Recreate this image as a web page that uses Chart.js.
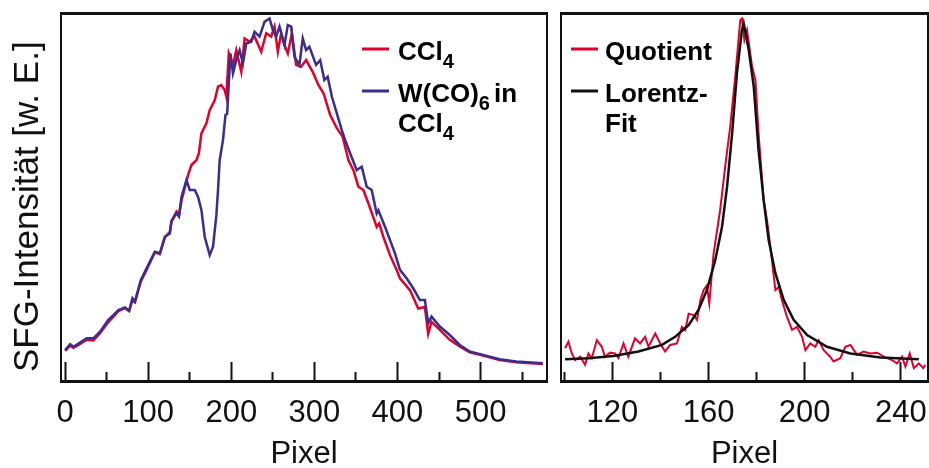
<!DOCTYPE html>
<html>
<head>
<meta charset="utf-8">
<script src="https://cdn.jsdelivr.net/npm/chart.js@4"></script>
<style>
  body { margin: 0; background: #fff; }
  #wrap { position: relative; width: 929px; height: 468px; }
  canvas { position: absolute; top: 0; }
  #left { left: 0; }
  #right { left: 555px; }
</style>
</head>
<body>
<div id="wrap">
  <canvas id="left" width="555" height="468"></canvas>
  <canvas id="right" width="374" height="468"></canvas>
</div>
<script>
// --- DATA (intensity in arbitrary units 0..100) ---
const ccl4Px = [0, 6, 10, 16, 26, 34, 42, 52, 58, 64, 72, 77, 81, 84, 91, 98, 108, 114, 120, 126, 128, 134, 137, 140,
  148, 152, 158, 161, 164, 170, 174, 180, 184, 188, 192, 194, 197, 202, 206, 212, 216, 222, 228, 236, 242, 248, 252,
  256, 260, 264, 268, 273, 278, 284, 290, 298, 305, 311, 319, 327, 334, 341, 347, 353, 359, 365, 375, 378, 383, 391,
  399, 403, 415, 425, 433, 437, 441, 451, 463, 475, 487, 503, 523, 543, 575];
const ccl4Int = [8.2, 9.6, 9.0, 9.8, 11.2, 11.0, 13.0, 16.0, 17.5, 19.0, 19.8, 19.0, 22.0, 21.4, 27.0, 30.2, 35.0, 34.5,
  39.0, 40.5, 43.5, 46.0, 45.0, 49.0, 56.0, 58.7, 60.0, 61.9, 67.3, 70.0, 73.6, 76.3, 80.0, 80.4, 79.1, 77.3, 89.0,
  85.9, 89.9, 84.0, 93.1, 92.2, 93.6, 89.5, 94.5, 93.6, 96.3, 89.5, 94.5, 91.3, 89.0, 94.5, 85.9, 85.4, 87.2, 84.0,
  80.4, 78.2, 72.3, 68.7, 66.4, 60.0, 57.3, 52.8, 51.9, 48.3, 41.9, 42.8, 39.2, 34.2, 30.2, 27.9, 24.7, 19.7, 20.1,
  12.8, 16.1, 13.9, 11.2, 9.4, 7.8, 6.9, 5.7, 5.1, 4.6];

const wcoPx = [0, 6, 10, 16, 26, 34, 42, 52, 58, 64, 72, 77, 81, 84, 91, 98, 108, 114, 120, 126, 128, 134, 137, 140,
  146, 150, 156, 160, 164, 168, 174, 178, 182, 184, 186, 190, 193, 195, 197, 199, 202, 206, 210, 214, 218, 224, 228,
  234, 240, 246, 250, 254, 258, 264, 268, 272, 276, 282, 286, 290, 294, 302, 307, 312, 316, 321, 327, 333, 337, 343,
  351, 357, 363, 369, 375, 377, 385, 391, 397, 403, 411, 419, 427, 433, 437, 441, 451, 463, 475, 487, 503, 523, 543, 575];
const wcoInt = [8.4, 10.0, 9.3, 10.2, 11.6, 11.6, 13.4, 16.6, 17.9, 19.3, 20.0, 19.1, 22.5, 21.6, 27.4, 30.6, 35.1,
  34.7, 39.2, 40.1, 43.3, 45.6, 44.7, 50.0, 54.6, 51.9, 51.9, 50.0, 46.5, 39.2, 34.2, 36.5, 45.0, 51.9, 60.0, 65.5,
  72.3, 72.6, 80.9, 89.0, 83.6, 87.2, 89.9, 86.3, 91.7, 92.2, 94.9, 93.6, 97.6, 98.5, 95.4, 93.6, 96.3, 91.3, 96.7,
  96.3, 88.1, 85.9, 93.1, 89.9, 90.8, 85.9, 87.2, 81.8, 82.7, 77.3, 72.7, 68.2, 65.5, 61.9, 57.3, 58.2, 52.8, 51.9,
  45.5, 46.4, 41.9, 38.3, 34.7, 30.2, 27.9, 25.2, 22.0, 22.0, 15.7, 17.5, 14.8, 12.5, 9.8, 8.0, 7.1, 5.9, 5.3, 4.8];

const quotPx = [100.3, 101.7, 103.1, 104.5, 106.6, 108.6, 110, 111.4, 113.5, 115.6, 116.9, 119, 121.1, 122.5, 124.6,
  126.6, 129.4, 131.5, 133.6, 135, 137.8, 139.9, 141.9, 144, 146.8, 148.9, 150.3, 151.7, 153.8, 155.2, 156.6, 157.9,
  159.3, 160.3, 162.1, 164.8, 166.9, 169, 171.1, 173.2, 173.9, 174.9, 176, 178.1, 179.5, 180.8, 182.9, 184.3, 185.7,
  187.8, 189.2, 190.5, 192.6, 194.7, 196.8, 198.9, 200.3, 202.3, 204.4, 205.8, 207.9, 210.6, 212, 214.8, 216.9, 219,
  221.8, 224.5, 227.3, 230.1, 232.9, 236.3, 238.4, 240.5, 241.9, 243.7, 245.4, 247.5, 249.3, 250.2];
const quotInt = [8.9, 10.7, 7.5, 5.7, 6.6, 4.4, 7.5, 6.2, 11.1, 9.3, 6.6, 7.7, 7.5, 6.2, 10.2, 6.6, 11.6, 10.2, 12.0,
  9.3, 12.9, 10.2, 8.0, 9.8, 10.2, 14.7, 13.8, 18.3, 17.9, 16.6, 22.0, 24.7, 26.0, 21.1, 34.7, 46.4, 58.2, 69.1, 82.7,
  98.1, 98.5, 92.7, 95.4, 85.5, 81.8, 67.3, 49.3, 43.8, 36.5, 24.7, 25.6, 22.0, 17.5, 13.9, 14.7, 12.0, 8.4, 10.2, 9.3,
  11.1, 8.4, 6.6, 5.3, 6.2, 9.3, 9.8, 7.1, 8.0, 7.5, 7.7, 6.6, 5.7, 4.8, 6.6, 3.9, 7.5, 3.5, 4.8, 3.5, 4.4];

const fitPx = [100.3, 110, 120.4, 130.8, 140.6, 146.1, 151.7, 155.8, 159.3, 162.8, 165.6, 167.7, 169.8, 171.8, 173.9,
  174.6, 176.7, 178.8, 180.8, 182.9, 185.0, 187.8, 191.3, 195.4, 201.0, 209.3, 219.0, 231.5, 247.5];
const fitInt = [5.9, 6.2, 6.8, 8.0, 9.8, 12.0, 15.2, 19.3, 24.7, 32.9, 41.9, 52.8, 67.3, 83.6, 95.4, 97.2, 90.0, 80.0,
  62.8, 49.3, 38.3, 29.3, 22.0, 16.6, 12.5, 9.3, 7.5, 6.4, 5.9];

const leftTickLabels = [0, 100, 200, 300, 400, 500];
const rightTickLabels = [120, 160, 200, 240];

// --- STYLE ---
const FONT = '"Liberation Sans", Arial, Helvetica, sans-serif';
const RED = '#e2002b';
const BLUE = '#3a2d8c';
const INK = '#111';

Chart.defaults.font.family = FONT;
Chart.defaults.color = INK;

const pts = (xs, ys) => xs.map((x, i) => ({ x, y: ys[i] }));

function xAxis(min, max, step, labels) {
  return {
    type: 'linear', position: 'bottom', min, max,
    afterFit: s => { s.height = 87; s.paddingLeft = 0; s.paddingRight = 0; },
    ticks: {
      stepSize: step, includeBounds: false, autoSkip: false, maxRotation: 0, padding: 33,
      font: { size: 31 }, color: INK,
      callback: v => labels.includes(v) ? String(v) : ''
    },
    grid: {
      display: true, drawOnChartArea: false, drawTicks: true, tickLength: -19, tickWidth: 2, tickColor: INK,
      tickBorderDash: c => (c.tick && labels.includes(c.tick.value)) ? [] : [11, 100]
    },
    border: { display: true, width: 3, color: INK },
    title: { display: true, text: 'Pixel', font: { size: 31, lineHeight: 1 }, padding: { top: 0, bottom: -2 }, color: INK }
  };
}

const frameAxis = (position, width) => ({
  type: 'linear', position, display: true,
  afterFit: s => { if (position === 'top') s.height = 0; else s.width = 0; },
  ticks: { display: false }, grid: { display: false, drawTicks: false },
  border: { display: true, width, color: INK }
});

// legend with subscripts, drawn on the canvas
const subLegend = {
  id: 'subLegend',
  afterDraw(chart, args, opts) {
    const { ctx, chartArea } = chart;
    ctx.save();
    opts.items.forEach(item => {
      ctx.strokeStyle = item.color;
      ctx.lineWidth = 3;
      ctx.beginPath();
      ctx.moveTo(chartArea.left + opts.lineX[0], chartArea.top + item.lineY);
      ctx.lineTo(chartArea.left + opts.lineX[1], chartArea.top + item.lineY);
      ctx.stroke();
      item.rows.forEach((parts, r) => {
        let x = chartArea.left + opts.textX;
        const y = chartArea.top + item.lineY + 11 + r * 30;
        parts.forEach(p => {
          ctx.font = `bold ${p.sub ? 20 : 26}px ${FONT}`;
          ctx.fillStyle = '#000';
          ctx.textBaseline = 'alphabetic';
          ctx.fillText(p.t, x, y + (p.sub ? 8 : 0));
          x += ctx.measureText(p.t).width + (p.gap || 0);
        });
      });
    });
    ctx.restore();
  }
};

const lineSet = (label, data, color, width, order) => ({
  label, data, borderColor: color, borderWidth: width, pointRadius: 0, tension: 0, fill: false, order
});

new Chart(document.getElementById('left'), {
  type: 'line',
  data: {
    datasets: [
      lineSet('W(CO)6 in CCl4', pts(wcoPx, wcoInt), BLUE, 2.5, 0),
      lineSet('CCl4', pts(ccl4Px, ccl4Int), RED, 2.5, 1)
    ]
  },
  options: {
    responsive: false, animation: false,
    layout: { padding: { top: 13, right: 8, left: 0, bottom: 0 }, autoPadding: false },
    scales: {
      x: xAxis(-5, 580, 50, leftTickLabels),
      y: {
        type: 'linear', min: 0, max: 100, display: true,
        afterFit: s => { s.width = 61; },
        ticks: { display: false }, grid: { display: false, drawTicks: false },
        border: { display: true, width: 2, color: INK },
        // two trailing no-break spaces nudge the centred title down like in the original
        title: { display: true, text: 'SFG-Intensität [w. E.]\u00a0\u00a0', font: { size: 35, lineHeight: 1.2 },
          padding: { top: 7, bottom: 0 }, color: INK }
      },
      xTop: frameAxis('top', 3),
      yRight: frameAxis('right', 2)
    },
    plugins: {
      legend: { display: false }, tooltip: { enabled: false },
      subLegend: {
        lineX: [301, 328], textX: 337,
        items: [
          { color: RED, lineY: 36, rows: [[{ t: 'CCl' }, { t: '4', sub: true }]] },
          { color: BLUE, lineY: 78, rows: [[{ t: 'W(CO)' }, { t: '6', sub: true, gap: 4 }, { t: 'in' }],
                                          [{ t: 'CCl' }, { t: '4', sub: true }]] }
        ]
      }
    }
  },
  plugins: [subLegend]
});

new Chart(document.getElementById('right'), {
  type: 'line',
  data: {
    datasets: [
      lineSet('Lorentz-Fit', pts(fitPx, fitInt), INK, 2.5, 0),
      lineSet('Quotient', pts(quotPx, quotInt), RED, 2, 1)
    ]
  },
  options: {
    responsive: false, animation: false,
    layout: { padding: { top: 13, right: 1, left: 6, bottom: 0 }, autoPadding: false },
    scales: {
      x: xAxis(98.6, 251.3, 20, rightTickLabels),
      y: {
        type: 'linear', min: 0, max: 100, display: true,
        afterFit: s => { s.width = 0; },
        ticks: { display: false }, grid: { display: false, drawTicks: false },
        border: { display: true, width: 2, color: INK }
      },
      xTop: frameAxis('top', 3),
      yRight: frameAxis('right', 2)
    },
    plugins: {
      legend: { display: false }, tooltip: { enabled: false },
      subLegend: {
        lineX: [10, 37], textX: 44,
        items: [
          { color: RED, lineY: 36, rows: [[{ t: 'Quotient' }]] },
          { color: INK, lineY: 78, rows: [[{ t: 'Lorentz-' }], [{ t: 'Fit' }]] }
        ]
      }
    }
  },
  plugins: [subLegend]
});
</script>
</body>
</html>
